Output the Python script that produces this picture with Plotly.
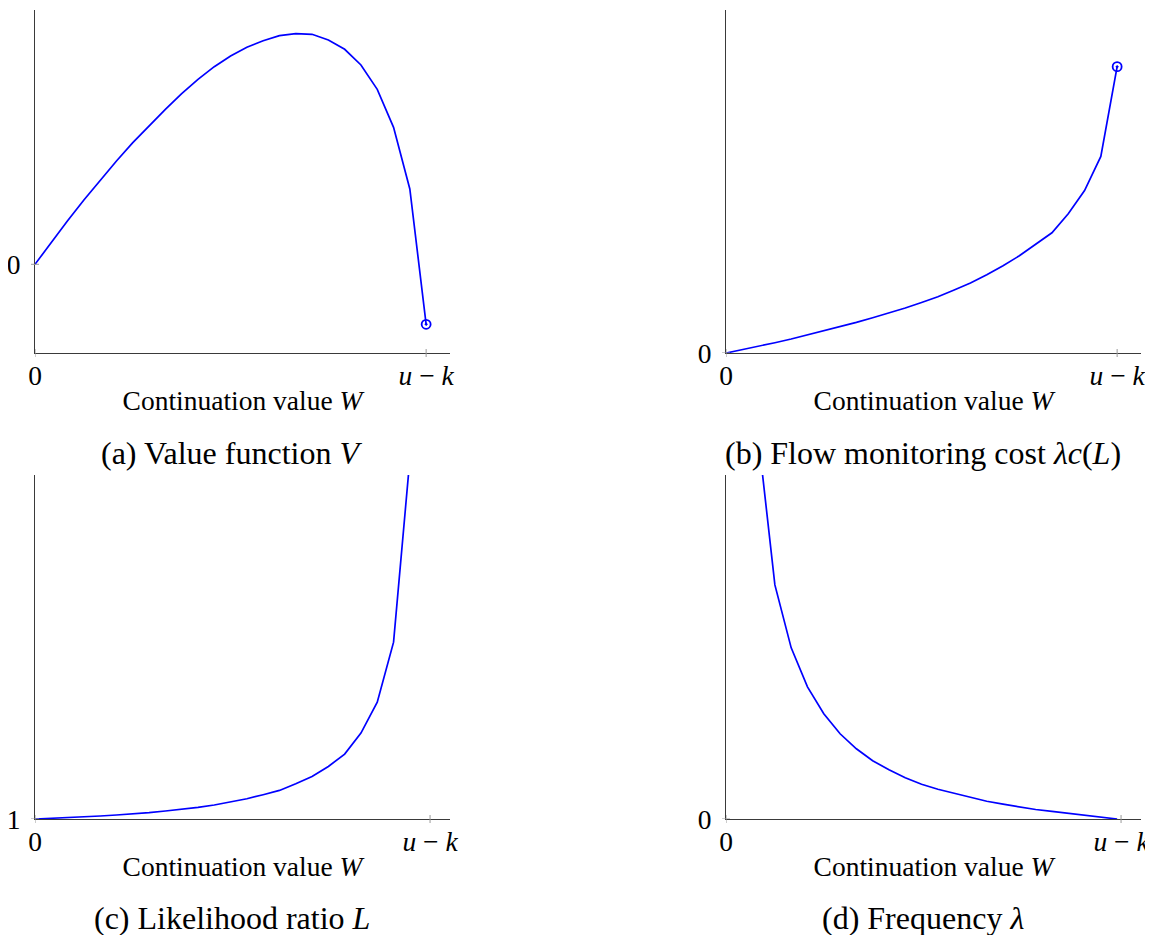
import plotly.graph_objects as go

# ---------------- data ----------------
# continuation value grid W, from 0 to u-k (u-k normalised to 1)
W = [0.0, 0.0417, 0.0833, 0.125, 0.1667, 0.2083, 0.25, 0.2917, 0.3333, 0.375,
     0.4167, 0.4583, 0.5, 0.5417, 0.5833, 0.625, 0.6667, 0.7083, 0.75, 0.7917,
     0.8333, 0.875, 0.9167, 0.9583, 1.0]

# (a) value function V
V = [0.0, 0.22, 0.436, 0.643, 0.843, 1.033, 1.216, 1.386, 1.55, 1.706,
     1.85, 1.976, 2.083, 2.17, 2.236, 2.286, 2.306, 2.30, 2.243, 2.15,
     1.993, 1.75, 1.37, 0.753, -0.6]

# (b) flow monitoring cost lambda*c(L)
COST = [0.0, 0.033, 0.066, 0.103, 0.14, 0.18, 0.22, 0.263, 0.306, 0.353,
        0.40, 0.45, 0.506, 0.563, 0.63, 0.70, 0.783, 0.873, 0.973, 1.09,
        1.203, 1.393, 1.626, 1.968, 2.866]

# (c) likelihood ratio L (grid points 0..23; the last one leaves the plot)
LR = [1.0, 1.006, 1.013, 1.020, 1.030, 1.040, 1.050, 1.063, 1.080, 1.096,
      1.116, 1.140, 1.170, 1.203, 1.243, 1.286, 1.353, 1.426, 1.526, 1.650,
      1.860, 2.170, 2.770, 4.60]

# (d) frequency lambda (grid points 2..24; the first one leaves the plot)
FREQ = [3.80, 2.343, 1.713, 1.323, 1.053, 0.853, 0.703, 0.583, 0.493, 0.413,
        0.348, 0.298, 0.258, 0.218, 0.178, 0.148, 0.121, 0.095, 0.077, 0.058,
        0.041, 0.025, 0.0]

# tick labels / positions
X_TICK_TEXT = ["0", "<i>u</i> \u2212 <i>k</i>"]
X_TICKS_AB = [0.0, 1.0]
X_TICKS_CD = [0.0, 1.01]
Y_TICK_A, Y_TICK_B, Y_TICK_C, Y_TICK_D = [0.0], [0.0], [1.0], [0.0]
Y_TICK_TEXT_A, Y_TICK_TEXT_B, Y_TICK_TEXT_C, Y_TICK_TEXT_D = ["0"], ["0"], ["1"], ["0"]

X_TITLE = "Continuation value <i>W</i>"
CAPTIONS = ["(a) Value function <i>V</i>",
            "(b) Flow monitoring cost <i>\u03bbc</i>(<i>L</i>)",
            "(c) Likelihood ratio <i>L</i>",
            "(d) Frequency <i>\u03bb</i>"]

# ---------------- styling ----------------
PAGE_W, PAGE_H = 1153, 935
OFF = 8                      # default body margin of the html page
FW, FH = PAGE_W - OFF, PAGE_H - OFF
FONT = "Liberation Serif"
BLUE = "#0000ff"
AXIS_COL = "#3a3a3a"
TICK_COL = "#9a9a9a"
X_RANGE = [0, 1.061]
TXT = 27.5
CAP = 32


def px_x(a, b):
    return [(a - OFF) / FW, (b - OFF) / FW]


def px_y(top, bottom):
    return [1 - (bottom - OFF) / FH, 1 - (top - OFF) / FH]


panels = [
    dict(xd=px_x(35, 450), yd=px_y(10, 353), yr=[-0.887, 2.543],
         xt=X_TICKS_AB, yt=Y_TICK_A, ytt=Y_TICK_TEXT_A),
    dict(xd=px_x(726, 1141), yd=px_y(10, 353), yr=[0, 3.433],
         xt=X_TICKS_AB, yt=Y_TICK_B, ytt=Y_TICK_TEXT_B),
    dict(xd=px_x(35, 450), yd=px_y(475, 819), yr=[1, 4.443],
         xt=X_TICKS_CD, yt=Y_TICK_C, ytt=Y_TICK_TEXT_C),
    dict(xd=px_x(726, 1141), yd=px_y(475, 819), yr=[0, 3.443],
         xt=X_TICKS_CD, yt=Y_TICK_D, ytt=Y_TICK_TEXT_D),
]

fig = go.Figure()

line = dict(color=BLUE, width=1.7)
end_marker = dict(symbol="circle-open-dot", size=9, color=BLUE,
                  line=dict(width=1.8, color=BLUE))
fig.add_trace(go.Scatter(x=W, y=V, mode="lines", line=line, xaxis="x", yaxis="y"))
fig.add_trace(go.Scatter(x=[W[-1]], y=[V[-1]], mode="markers", xaxis="x", yaxis="y",
                         marker=end_marker, cliponaxis=False))
fig.add_trace(go.Scatter(x=W, y=COST, mode="lines", line=line, xaxis="x2", yaxis="y2"))
fig.add_trace(go.Scatter(x=[W[-1]], y=[COST[-1]], mode="markers", xaxis="x2", yaxis="y2",
                         marker=end_marker, cliponaxis=False))
fig.add_trace(go.Scatter(x=W[:len(LR)], y=LR, mode="lines", line=line, xaxis="x3", yaxis="y3"))
fig.add_trace(go.Scatter(x=W[len(W) - len(FREQ):], y=FREQ, mode="lines", line=line,
                         xaxis="x4", yaxis="y4"))

layout = dict(
    width=FW, height=FH,
    margin=dict(l=0, r=0, t=0, b=0, autoexpand=False),
    paper_bgcolor="white", plot_bgcolor="white",
    showlegend=False,
    font=dict(family=FONT, size=TXT, color="black"),
)

shapes = []
for k, p in enumerate(panels, start=1):
    sx = "" if k == 1 else str(k)
    layout["xaxis" + sx] = dict(
        domain=p["xd"], range=X_RANGE, anchor="y" + sx, automargin=False,
        showline=True, linecolor=AXIS_COL, linewidth=1,
        showgrid=False, zeroline=False, ticks="",
        tickmode="array", tickvals=p["xt"], ticktext=X_TICK_TEXT,
        tickfont=dict(family=FONT, size=TXT), ticklabelstandoff=-2,
        title=dict(text=X_TITLE, font=dict(family=FONT, size=TXT), standoff=0),
        fixedrange=True,
    )
    layout["yaxis" + sx] = dict(
        domain=p["yd"], range=p["yr"], anchor="x" + sx, automargin=False,
        showline=True, linecolor=AXIS_COL, linewidth=1,
        showgrid=False, zeroline=False, ticks="",
        tickmode="array", tickvals=p["yt"], ticktext=p["ytt"],
        tickfont=dict(family=FONT, size=TXT), ticklabelstandoff=8,
        fixedrange=True,
    )
    # small tick marks crossing the axes (both sides)
    for tv in p["xt"]:
        shapes.append(dict(type="line", xref="x" + sx, yref="y" + sx + " domain",
                           x0=tv, x1=tv, ysizemode="pixel", yanchor=0, y0=-4, y1=4,
                           line=dict(color=TICK_COL, width=1)))
    for tv in p["yt"]:
        shapes.append(dict(type="line", yref="y" + sx, xref="x" + sx + " domain",
                           y0=tv, y1=tv, xsizemode="pixel", xanchor=0, x0=-4, x1=4,
                           line=dict(color=TICK_COL, width=1)))

layout["shapes"] = shapes

cap_pos = [(231.7, 453), (922.5, 453), (231.7, 918), (922.5, 918)]
layout["annotations"] = [
    dict(text=t, xref="paper", yref="paper", x=(cx - OFF) / FW, y=1 - (cy - OFF) / FH,
         xanchor="center", yanchor="middle", showarrow=False,
         font=dict(family=FONT, size=CAP, color="black"))
    for t, (cx, cy) in zip(CAPTIONS, cap_pos)
]

fig.update_layout(**layout)
fig.write_html("out.html")
